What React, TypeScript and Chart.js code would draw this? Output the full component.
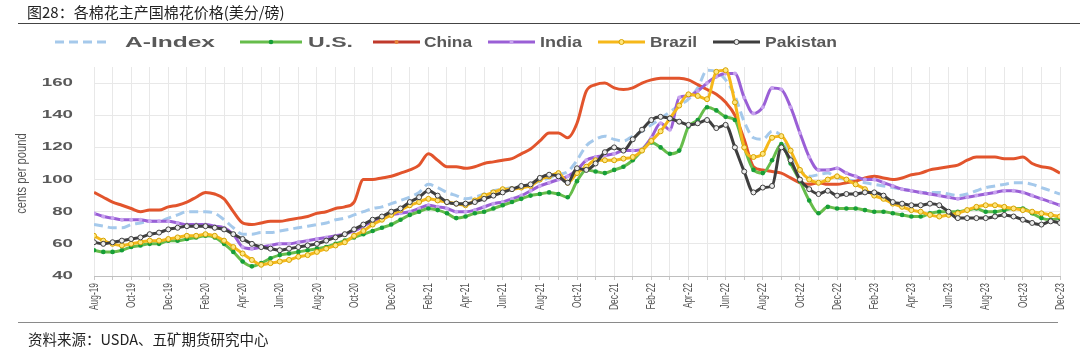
import React, { useEffect, useRef } from 'react';
import { Chart, registerables } from 'chart.js';

Chart.register(...registerables);

// Tick labels (every two months, Aug-19 .. Dec-23)
const MONTH_LABELS = [
  'Aug-19', 'Oct-19', 'Dec-19', 'Feb-20', 'Apr-20', 'Jun-20', 'Aug-20', 'Oct-20', 'Dec-20',
  'Feb-21', 'Apr-21', 'Jun-21', 'Aug-21', 'Oct-21', 'Dec-21', 'Feb-22', 'Apr-22', 'Jun-22',
  'Aug-22', 'Oct-22', 'Dec-22', 'Feb-23', 'Apr-23', 'Jun-23', 'Aug-23', 'Oct-23', 'Dec-23',
];
const Y_TICKS = [40, 60, 80, 100, 120, 140, 160];
const SERIES_NAMES = ['A-Index', 'U.S.', 'China', 'India', 'Brazil', 'Pakistan'];

// Half-monthly readings, Aug-19 (start) .. Dec-23
const A_INDEX = [
  72, 71, 70, 70, 72, 73, 74, 74, 76, 78, 80, 80, 80, 79, 75, 70, 66, 66, 67, 67,
  68, 69, 70, 71, 72, 73, 75, 76, 78, 80, 82, 83, 85, 87, 89, 92, 97, 95, 92, 90,
  88, 89, 91, 93, 94, 95, 96, 97, 99, 101, 103, 105, 112, 121, 125, 127, 125, 124, 127, 130,
  134, 138, 142, 146, 150, 157, 168, 167, 162, 152, 136, 126, 125, 130, 127, 116, 106, 102, 103, 104,
  101, 100, 99, 98, 97, 96, 95, 94, 93, 92, 92, 92, 91, 90, 91, 93, 95, 96, 97, 98,
  98, 97, 95, 93, 91,
];
const US = [
  56, 55, 55, 56, 58, 59, 60, 60, 62, 62, 63, 64, 65, 64, 60, 55, 49, 46, 48, 51,
  53, 54, 55, 56, 57, 58, 60, 62, 64, 66, 68, 70, 72, 75, 78, 80, 82, 81, 79, 76,
  77, 79, 80, 82, 84, 86, 88, 90, 91, 92, 91, 89, 99, 106, 105, 104, 106, 108, 112, 118,
  123, 120, 116, 118, 133, 137, 145, 143, 139, 137, 120, 106, 104, 112, 122, 110, 99, 87, 79, 83,
  82, 82, 82, 81, 80, 80, 79, 78, 77, 77, 79, 80, 80, 80, 81, 82, 80, 80, 81, 82,
  82, 79, 76, 75, 76,
];
const CHINA = [
  92, 89, 86, 84, 82, 80, 81, 81, 83, 84, 86, 89, 92, 91, 88, 80, 73, 72, 73, 74,
  74, 75, 76, 77, 79, 80, 82, 83, 86, 100, 100, 101, 102, 104, 106, 109, 116, 112, 108, 108,
  107, 108, 110, 111, 112, 113, 116, 119, 124, 129, 129, 126, 135, 155, 159, 160, 157, 156, 157, 160,
  162, 163, 163, 163, 162, 159, 156, 153, 148, 140, 125, 108, 106, 105, 104, 101, 98, 97, 98, 97,
  97, 98, 99, 101, 102, 101, 100, 101, 103, 104, 106, 107, 108, 109, 112, 114, 114, 114, 113, 113,
  114, 110, 108, 107, 104,
];
const INDIA = [
  79, 77, 76, 75, 75, 75, 74, 74, 74, 73, 72, 72, 72, 71, 70, 66, 58, 57, 58, 59,
  60, 60, 61, 62, 63, 64, 65, 66, 68, 71, 74, 76, 78, 79, 80, 82, 84, 83, 82, 80,
  80, 81, 83, 85, 86, 88, 90, 93, 96, 98, 100, 102, 106, 112, 114, 115, 116, 118, 118, 119,
  126, 135, 131, 151, 152, 155, 160, 164, 166, 166, 151, 141, 145, 157, 156, 145, 129, 114, 106, 106,
  107, 104, 102, 100, 100, 98, 96, 94, 93, 92, 91, 90, 89, 88, 89, 90, 91, 92, 93, 93,
  92, 90, 88, 86, 84,
];
const BRAZIL = [
  65, 62, 60, 59, 60, 61, 62, 62, 63, 64, 65, 65, 66, 65, 62, 58, 54, 50, 47, 48,
  49, 50, 52, 53, 55, 57, 59, 61, 65, 68, 72, 75, 78, 81, 84, 86, 88, 87, 86, 85,
  84, 87, 90, 92, 94, 94, 95, 96, 100, 102, 104, 98, 104, 108, 112, 112, 112, 113, 114, 118,
  124, 130, 138, 146, 153, 152, 150, 167, 168, 148, 120, 114, 116, 126, 127, 118, 106, 100, 98, 100,
  102, 100, 97, 94, 90, 88, 85, 83, 81, 80, 78, 77, 78, 79, 81, 83, 84, 84, 83, 82,
  81, 80, 79, 78, 77,
];
const PAKISTAN = [
  61, 60, 61, 62, 63, 64, 66, 67, 69, 70, 71, 71, 71, 70, 69, 66, 63, 60, 58, 57,
  56, 57, 58, 59, 60, 62, 64, 66, 69, 72, 75, 77, 80, 82, 86, 89, 93, 90, 86, 85,
  85, 86, 88, 90, 92, 94, 96, 97, 101, 103, 102, 98, 107, 106, 110, 117, 120, 118, 125, 131,
  137, 139, 138, 136, 134, 135, 137, 132, 134, 120, 105, 92, 95, 96, 120, 112, 100, 94, 91, 93,
  90, 91, 91, 92, 92, 90, 86, 85, 84, 84, 85, 84, 80, 76, 76, 76, 76, 77, 78, 77,
  75, 73, 72, 74, 73,
];

const SERIES_VALUES = [A_INDEX, US, CHINA, INDIA, BRAZIL, PAKISTAN];

const STYLES = [
  { borderColor: '#A5C9EB', borderDash: [9, 5], pointRadius: 0, order: 5 },
  { borderColor: '#66BD4B', pointRadius: 2.3, pointBackgroundColor: '#169E38', pointBorderColor: '#169E38', pointBorderWidth: 0, order: 2 },
  { borderColor: '#E2542C', pointRadius: 0, order: 4, legendLine: '#C0392B', legendPoint: '#E8843A' },
  { borderColor: '#9A5FD6', pointRadius: 2, pointBackgroundColor: '#C8A4EF', pointBorderColor: '#C8A4EF', pointBorderWidth: 0, order: 3 },
  { borderColor: '#F6B81A', pointRadius: 2.5, pointBackgroundColor: '#FFE680', pointBorderColor: '#D6A200', pointBorderWidth: 1, order: 1 },
  { borderColor: '#3E3E3E', pointRadius: 2.5, pointBackgroundColor: '#EDEDED', pointBorderColor: '#3E3E3E', pointBorderWidth: 1, order: 0 },
];

// legend layout: line start/end, text start, text width
const LEGEND_LAYOUT = [
  { x0: 55, x1: 110, tx: 125, tw: 90 },
  { x0: 240, x1: 302, tx: 308, tw: 45 },
  { x0: 373, x1: 420, tx: 424, tw: 48 },
  { x0: 488, x1: 535, tx: 540, tw: 42 },
  { x0: 598, x1: 645, tx: 650, tw: 47 },
  { x0: 713, x1: 760, tx: 765, tw: 72 },
];
const LEGEND_Y = 42;
const TEXT_GREY = '#595959';
const SANS = "'Liberation Sans', Arial, sans-serif";

const decorPlugin = {
  id: 'decor',
  afterDraw(chart: any) {
    const ctx = chart.ctx as CanvasRenderingContext2D;
    const xScale = chart.scales.x;
    const yScale = chart.scales.y;
    const area = chart.chartArea;

    // y tick labels (wide bold)
    ctx.save();
    ctx.font = `bold 11px ${SANS}`;
    ctx.fillStyle = TEXT_GREY;
    ctx.textBaseline = 'middle';
    ctx.textAlign = 'right';
    Y_TICKS.forEach((v) => {
      const y = yScale.getPixelForValue(v);
      ctx.save();
      ctx.translate(73, y);
      ctx.scale(1.7, 1);
      ctx.fillText(String(v), 0, 0);
      ctx.restore();
    });
    ctx.restore();

    // x tick labels (rotated, condensed)
    ctx.save();
    ctx.font = `13.5px ${SANS}`;
    ctx.fillStyle = '#555555';
    ctx.textBaseline = 'middle';
    ctx.textAlign = 'right';
    MONTH_LABELS.forEach((lab, i) => {
      const x = xScale.getPixelForValue(i * 2);
      ctx.save();
      ctx.translate(x, area.bottom + 7);
      ctx.rotate(-Math.PI / 2);
      ctx.scale(0.62, 1);
      ctx.fillText(lab, 0, 0);
      ctx.restore();
    });
    ctx.restore();

    // y axis title
    ctx.save();
    ctx.font = `15px ${SANS}`;
    ctx.fillStyle = '#555555';
    ctx.textAlign = 'center';
    ctx.textBaseline = 'middle';
    ctx.translate(22, (area.top + area.bottom) / 2 + 2);
    ctx.rotate(-Math.PI / 2);
    ctx.scale(0.75, 1);
    ctx.fillText('cents per pound', 0, 0);
    ctx.restore();

    // legend
    chart.data.datasets.forEach((ds: any, i: number) => {
      const L = LEGEND_LAYOUT[i];
      const st: any = STYLES[i];
      ctx.save();
      ctx.strokeStyle = st.legendLine || ds.borderColor;
      ctx.lineWidth = 3;
      ctx.setLineDash(ds.borderDash || []);
      ctx.beginPath();
      ctx.moveTo(L.x0, LEGEND_Y);
      ctx.lineTo(L.x1, LEGEND_Y);
      ctx.stroke();
      ctx.setLineDash([]);
      const r = st.legendPoint ? 2 : ds.pointRadius;
      if (r > 0) {
        ctx.beginPath();
        ctx.arc((L.x0 + L.x1) / 2, LEGEND_Y, r, 0, Math.PI * 2);
        ctx.fillStyle = st.legendPoint || ds.pointBackgroundColor;
        ctx.fill();
        if (ds.pointBorderWidth) {
          ctx.lineWidth = ds.pointBorderWidth;
          ctx.strokeStyle = ds.pointBorderColor;
          ctx.stroke();
        }
      }
      ctx.font = `bold 14px ${SANS}`;
      ctx.fillStyle = TEXT_GREY;
      ctx.textBaseline = 'middle';
      ctx.textAlign = 'left';
      const w = ctx.measureText(ds.label).width;
      ctx.translate(L.tx, LEGEND_Y + 1);
      ctx.scale(L.tw / w, 1);
      ctx.fillText(ds.label, 0, 0);
      ctx.restore();
    });
  },
};

export default function App() {
  const ref = useRef<HTMLCanvasElement>(null);

  useEffect(() => {
    const datasets = SERIES_VALUES.map((vals, i) => ({
      label: SERIES_NAMES[i],
      data: vals.map((v, k) => ({ x: k / 2, y: v })),
      borderWidth: 3,
      fill: false,
      cubicInterpolationMode: 'monotone' as const,
      ...STYLES[i],
    }));

    const chart = new Chart(ref.current as HTMLCanvasElement, {
      type: 'line',
      data: { datasets: datasets as any },
      plugins: [decorPlugin],
      options: {
        responsive: false,
        animation: false,
        events: [],
        layout: { padding: { top: 67, right: 20, left: 0, bottom: 0 } },
        plugins: { legend: { display: false }, tooltip: { enabled: false } },
        scales: {
          x: {
            type: 'linear',
            min: 0,
            max: (MONTH_LABELS.length - 1) * 2,
            ticks: { display: false, stepSize: 1, autoSkip: false },
            grid: { color: '#E8E8E8', tickColor: '#C8C8C8', tickLength: 4, lineWidth: 1 },
            border: { color: '#BFBFBF', width: 1 },
            afterFit: (s: any) => {
              s.height = 79;
            },
          },
          y: {
            type: 'linear',
            min: 40,
            max: 170,
            ticks: { display: false, stepSize: 20 },
            grid: { color: '#E8E8E8', drawTicks: false, lineWidth: 1 },
            border: { display: false },
            afterBuildTicks: (s: any) => {
              s.ticks = Y_TICKS.map((v) => ({ value: v }));
            },
            afterFit: (s: any) => {
              s.width = 94;
            },
          },
        },
      },
    });
    return () => chart.destroy();
  }, []);

  return (
    <div style={{ position: 'absolute', left: 0, top: 0, width: 1080, height: 355, background: '#fff', overflow: 'hidden' }}>
      <canvas ref={ref} width={1080} height={355} style={{ position: 'absolute', left: 0, top: 0, width: 1080, height: 355 }} />
      <div style={{ position: 'absolute', left: 27, top: 3, fontFamily: "'Noto Sans CJK SC', sans-serif", fontSize: 15, lineHeight: '18px', color: '#222', whiteSpace: 'nowrap' }}>
        图28：各棉花主产国棉花价格(美分/磅)
      </div>
      <div style={{ position: 'absolute', left: 18, right: 0, top: 23, borderTop: '1.5px solid #444' }} />
      <div style={{ position: 'absolute', left: 18, width: 1040, top: 322, borderTop: '1.5px solid #8a8a8a' }} />
      <div style={{ position: 'absolute', left: 28, top: 330, fontFamily: "'Noto Sans CJK SC', sans-serif", fontSize: 14.5, lineHeight: '17px', color: '#222', whiteSpace: 'nowrap' }}>
        资料来源：USDA、五矿期货研究中心
      </div>
    </div>
  );
}
